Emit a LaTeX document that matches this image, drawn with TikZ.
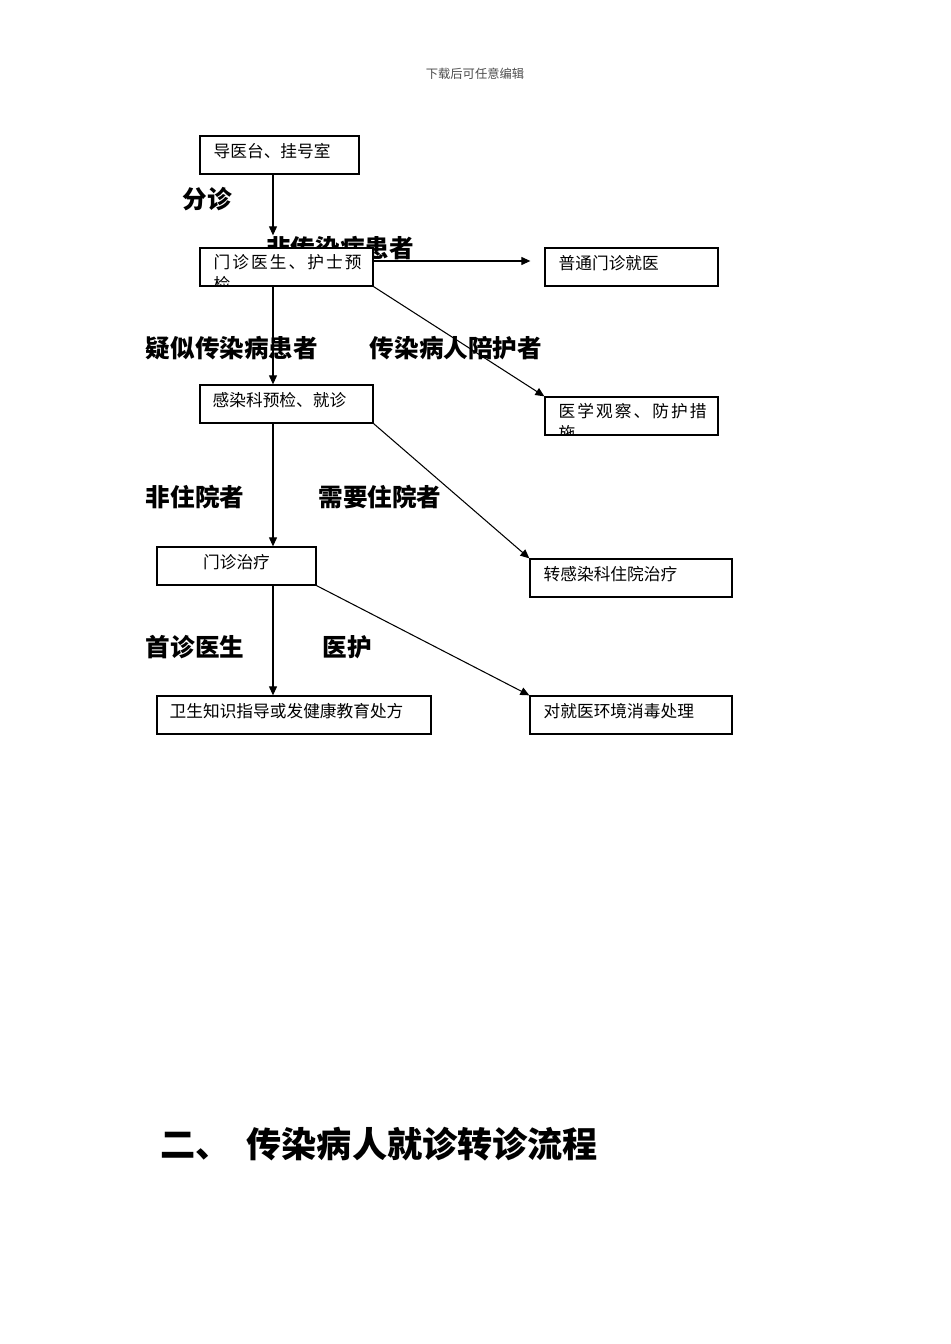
\documentclass[tikz,border=0pt]{standalone}
\usepackage{fontspec}
\setmainfont{Noto Sans CJK SC}
\usetikzlibrary{arrows.meta,positioning}

\begin{document}
\begin{tikzpicture}[x=0.02cm, y=-0.02cm,
  box/.style={draw, fill=white, line width=0.75pt, inner sep=0pt, minimum height=0.76cm},
  boxtxt/.style={inner sep=0pt, font=\fontsize{9.5}{12.5}\selectfont, align=left},
  lab/.style={font=\fontsize{14}{16}\selectfont\bfseries},
  arr/.style={-{Triangle[length=1.8mm,width=1.6mm]}, line width=0.6pt}]
  \useasboundingbox (0,0) rectangle (950,1344);
  \node[font=\fontsize{7}{8}\selectfont, text=black!70] (hdr) at (475,74) {下载后可任意编辑};

  % branch labels (behind the boxes)
  \node[lab] (fenzhen) at (207,199) {分诊};
  \node[lab] (feichuan) at (340,248) {非传染病患者};
  \node[lab] (yisi) at (232,348) {疑似传染病患者};
  \node[lab] (peihu) at (456,348) {传染病人陪护者};
  \node[lab] (feizhu) at (195,497) {非住院者};
  \node[lab] (zhuyuan) at (380,497) {需要住院者};
  \node[lab] (shouzhen) at (195,647) {首诊医生};
  \node[lab] (yihu) at (347,647) {医护};

  % boxes
  \node[box, minimum width=3.18cm] (daoyi) at (279.5,155) {};
  \node[box, minimum width=3.46cm] (menzhen) at (286.5,267) {};
  \node[box, minimum width=3.46cm] (putong) at (631.5,267) {};
  \node[box, minimum width=3.46cm] (guancha) at (631.5,416) {};
  \node[box, minimum width=3.46cm] (ganran) at (286.5,404) {};
  \node[box, minimum width=3.18cm] (zhiliao) at (236.5,566) {};
  \node[box, minimum width=4.04cm] (zhuanke) at (631,578) {};
  \node[box, minimum width=5.48cm] (weisheng) at (294,715) {};
  \node[box, minimum width=4.04cm] (xiaodu) at (631,715) {};

  \node[boxtxt, anchor=north west] (daoyitxt) at ([shift={(14,8)}]daoyi.north west) {导医台、挂号室};
  \begin{scope}
    \clip (menzhen.south west) rectangle (menzhen.north east);
    \node[boxtxt, anchor=north west] (menzhentxt) at ([shift={(14,7)}]menzhen.north west)
      {\hbox to 2.96cm{门\hfill 诊\hfill 医\hfill 生\hfill 、\hfill 护\hfill 士\hfill 预}\\检};
  \end{scope}
  \node[boxtxt, anchor=north west] (putongtxt) at ([shift={(14,8)}]putong.north west) {普通门诊就医};
  \begin{scope}
    \clip (guancha.south west) rectangle (guancha.north east);
    \node[boxtxt, anchor=north west] (guanchatxt) at ([shift={(14,7)}]guancha.north west)
      {\hbox to 2.96cm{医\hfill 学\hfill 观\hfill 察\hfill 、\hfill 防\hfill 护\hfill 措}\\施};
  \end{scope}
  \node[boxtxt, anchor=north west] (ganrantxt) at ([shift={(13,8)}]ganran.north west) {感染科预检、就诊};
  \node[boxtxt, anchor=north] (zhiliaotxt) at ([shift={(0,8)}]zhiliao.north) {门诊治疗};
  \node[boxtxt, anchor=north west] (zhuanketxt) at ([shift={(14,8)}]zhuanke.north west) {转感染科住院治疗};
  \node[boxtxt, anchor=north west] (weishengtxt) at ([shift={(13,8)}]weisheng.north west) {卫生知识指导或发健康教育处方};
  \node[boxtxt, anchor=north west] (xiaodutxt) at ([shift={(14,8)}]xiaodu.north west) {对就医环境消毒处理};

  % connectors
  \coordinate (axis) at (273,0);
  \draw[arr, shorten >=0.24cm] (daoyi.south -| axis) -- (menzhen.north -| axis);
  \draw[arr] ([shift={(0,-6)}]menzhen.east) -- ([shift={(-14,-6)}]putong.west);
  \draw[arr] (menzhen.south east) -- (guancha.north west);
  \draw[arr] (menzhen.south -| axis) -- (ganran.north -| axis);
  \draw[arr] (ganran.south -| axis) -- (zhiliao.north -| axis);
  \draw[arr] (ganran.south east) -- (zhuanke.north west);
  \draw[arr] (zhiliao.south -| axis) -- (weisheng.north -| axis);
  \draw[arr] (zhiliao.south east) -- (xiaodu.north west);

  \node[font=\fontsize{20}{24}\selectfont\bfseries, anchor=west, inner sep=0pt] (title) at (160,1144)
    {二、\hspace{0.32cm}传染病人就诊转诊流程};
\end{tikzpicture}
\end{document}
